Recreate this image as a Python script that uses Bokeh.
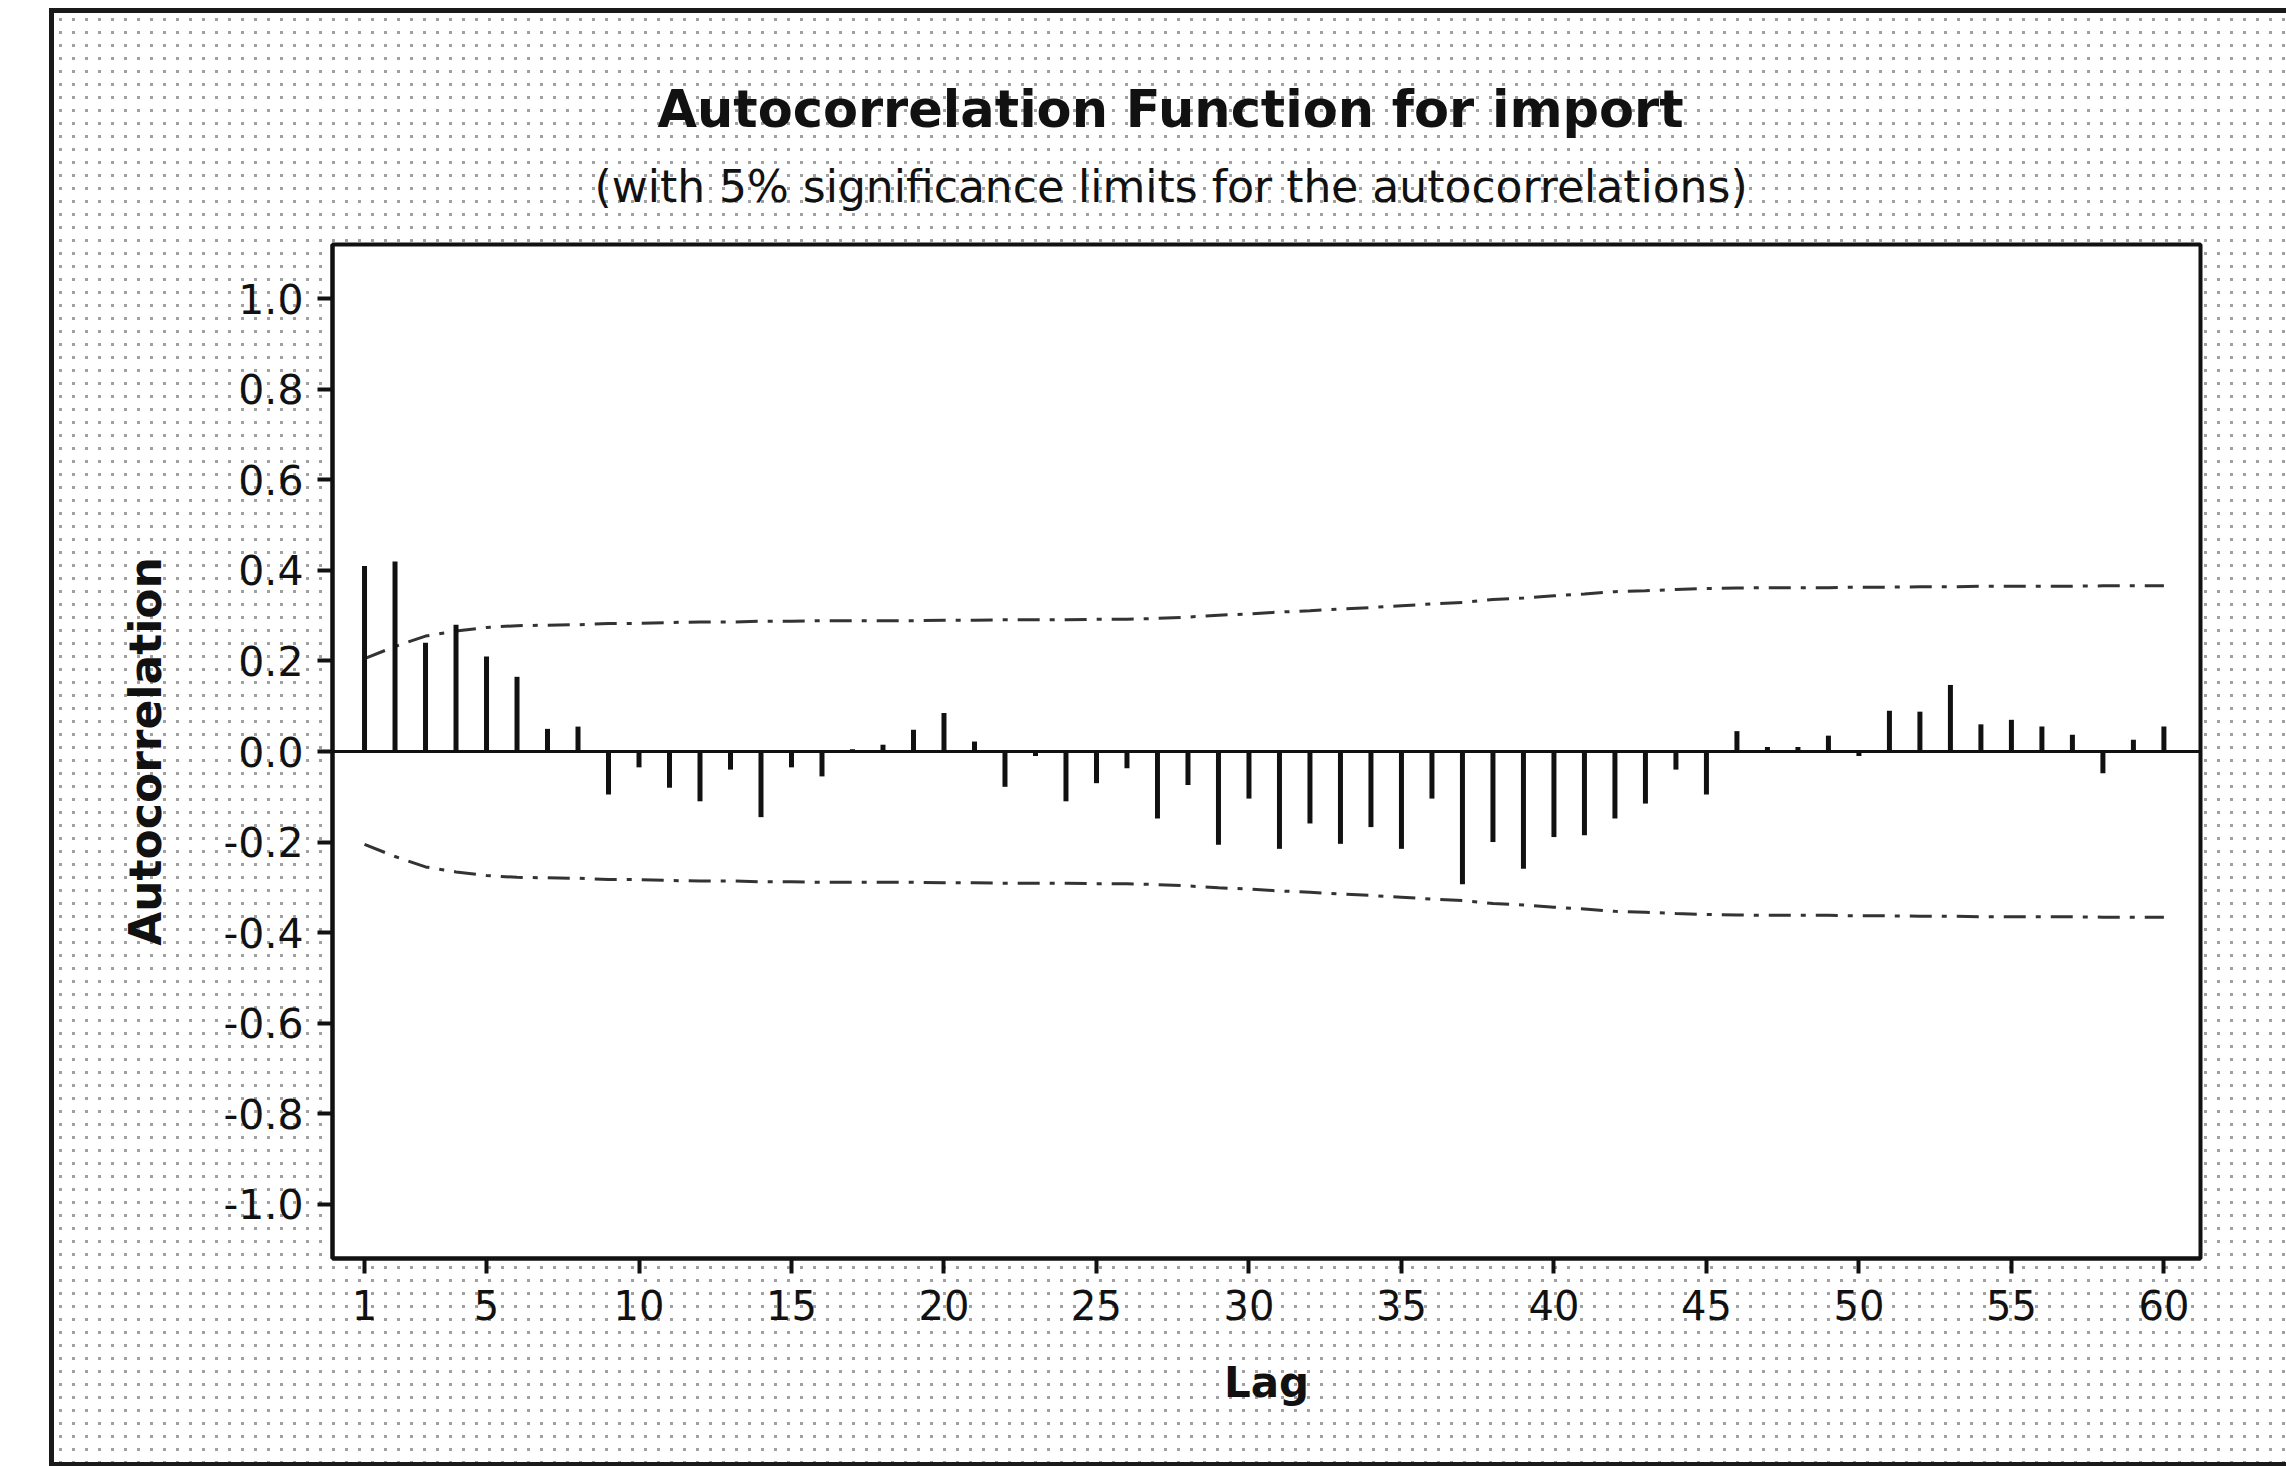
from bokeh.plotting import figure
from bokeh.models import Range1d, FixedTicker, PrintfTickFormatter, Span, Title
from bokeh.layouts import column
from bokeh.embed import file_html
from bokeh.resources import INLINE

# ---------------- data ----------------
lags = list(range(1, 61))
acf = [0.41, 0.42, 0.24, 0.28, 0.21, 0.165, 0.05, 0.055, -0.095, -0.035,
       -0.08, -0.11, -0.04, -0.145, -0.035, -0.055, 0.005, 0.015, 0.048, 0.085,
       0.022, -0.078, -0.01, -0.11, -0.07, -0.037, -0.148, -0.074, -0.206, -0.104,
       -0.215, -0.159, -0.204, -0.167, -0.215, -0.104, -0.293, -0.2, -0.259, -0.189,
       -0.185, -0.148, -0.115, -0.04, -0.095, 0.045, 0.01, 0.01, 0.035, -0.01,
       0.09, 0.088, 0.147, 0.06, 0.07, 0.055, 0.037, -0.048, 0.026, 0.055]
limit = [0.205, 0.232, 0.255, 0.266, 0.274, 0.278, 0.279, 0.280, 0.283, 0.283,
         0.285, 0.286, 0.286, 0.288, 0.288, 0.289, 0.289, 0.289, 0.289, 0.290,
         0.290, 0.291, 0.291, 0.291, 0.292, 0.292, 0.294, 0.297, 0.301, 0.304,
         0.308, 0.311, 0.315, 0.318, 0.322, 0.326, 0.329, 0.336, 0.339, 0.344,
         0.348, 0.353, 0.355, 0.358, 0.360, 0.361, 0.362, 0.362, 0.362, 0.363,
         0.363, 0.364, 0.364, 0.365, 0.365, 0.365, 0.365, 0.366, 0.366, 0.366]
x_ticks = [1, 5, 10, 15, 20, 25, 30, 35, 40, 45, 50, 55, 60]
y_ticks = [-1.0, -0.8, -0.6, -0.4, -0.2, 0.0, 0.2, 0.4, 0.6, 0.8, 1.0]
title_text = "Autocorrelation Function for import"
subtitle_text = "(with 5% significance limits for the autocorrelations)"
x_label = "Lag"
y_label = "Autocorrelation"

FONT = "DejaVu Sans"

p = figure(width=2232, height=1449, output_backend="svg", toolbar_location=None,
           x_range=Range1d(-0.05, 61.2), y_range=Range1d(-1.12, 1.12),
           min_border_left=278, min_border_right=86, min_border_top=231,
           min_border_bottom=204)
p.title.visible = False
p.border_fill_alpha = 0.0
p.background_fill_color = "white"
p.outline_line_color = "#111111"
p.outline_line_width = 4
p.xgrid.visible = False
p.ygrid.visible = False

# titles (subtitle first -> closest to frame)
p.add_layout(Title(text=subtitle_text, align="left", text_font=FONT,
                   text_font_size="44px", text_font_style="normal",
                   text_color="#111111", standoff=66, offset=262), "above")
p.add_layout(Title(text=title_text, align="left", text_font=FONT,
                   text_font_size="51px", text_font_style="bold",
                   text_color="#111111", standoff=-27, offset=325), "above")

for ax in (p.xaxis[0], p.yaxis[0]):
    ax.axis_line_width = 4
    ax.axis_line_color = "#111111"
    ax.major_tick_line_width = 4
    ax.major_tick_line_color = "#111111"
    ax.major_tick_out = 15
    ax.major_tick_in = 0
    ax.minor_tick_line_color = None
    ax.major_label_text_font = FONT
    ax.major_label_text_color = "#111111"
    ax.axis_label_text_font = FONT
    ax.axis_label_text_font_style = "bold"
    ax.axis_label_text_color = "#111111"

p.xaxis.major_label_text_font_size = "40px"
p.yaxis.major_label_text_font_size = "41px"
p.xaxis.axis_label_text_font_size = "42px"
p.yaxis.axis_label_text_font_size = "44px"

p.xaxis.ticker = FixedTicker(ticks=x_ticks)
p.yaxis.ticker = FixedTicker(ticks=y_ticks)
p.yaxis.formatter = PrintfTickFormatter(format="%.1f")
p.xaxis.axis_label = x_label
p.yaxis.axis_label = y_label
p.xaxis.major_label_standoff = 16
p.yaxis.major_label_standoff = 14
p.xaxis.axis_label_standoff = 35
p.yaxis.axis_label_standoff = 50

# zero line
p.add_layout(Span(location=0, dimension="width", line_color="#111111", line_width=3))

# significance limits
neg_limit = [-v for v in limit]
p.line(lags, limit, line_color="#333333", line_width=3, line_dash="22 10 5 10")
p.line(lags, neg_limit, line_color="#333333", line_width=3, line_dash="22 10 5 10")

# autocorrelation bars
p.segment(x0=lags, y0=[0] * len(lags), x1=lags, y1=acf,
          line_color="#111111", line_width=5)

layout = column(p, styles={
    "margin-left": "49px",
    "margin-top": "8px",
    "border-left": "5px solid #1a1a1a",
    "border-top": "5px solid #1a1a1a",
    "border-bottom": "4px solid #1a1a1a",
    "background": "radial-gradient(circle, #a0a0a0 1.5px, transparent 2px) 0 0 / 13px 13px, #ffffff",
})

open("out.html", "w").write(file_html(layout, INLINE))
